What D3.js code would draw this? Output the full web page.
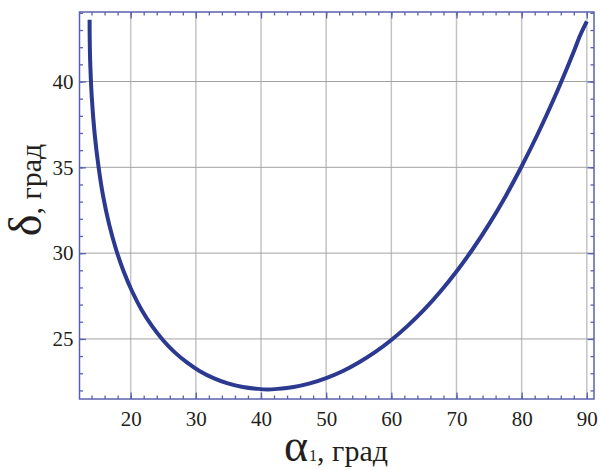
<!DOCTYPE html>
<html>
<head>
<meta charset="utf-8">
<script src="https://cdn.jsdelivr.net/npm/d3@7"></script>
<style>
  body { margin: 0; background: #fff; }
  svg { display: block; }
</style>
</head>
<body>
<svg id="chart" width="600" height="470" font-family="Liberation Serif"></svg>
<script>
// Data: alpha1 (deg) vs delta (deg)
const alpha1 = [13.70, 13.71, 13.75, 13.82, 14.04, 14.47, 15.06, 15.79, 16.69, 17.74,
  18.93, 20.25, 21.69, 23.26, 24.94, 26.73, 28.63, 30.62, 32.72, 34.91, 37.20, 39.59,
  41.03, 42.5, 45, 47.5, 50, 52.5, 55, 57.5, 60, 62.5, 65, 67.5, 70, 72.5, 75, 77.5,
  80, 82.5, 85, 87, 88, 89, 90];
const delta = [43.6, 42.71, 41.75, 40.82, 39.04, 36.97, 35.06, 33.29, 31.69, 30.24,
  28.93, 27.75, 26.69, 25.76, 24.94, 24.23, 23.63, 23.12, 22.72, 22.41, 22.20, 22.09,
  22.06, 22.09, 22.20, 22.41, 22.72, 23.12, 23.63, 24.23, 24.94, 25.76, 26.69, 27.75,
  28.93, 30.24, 31.69, 33.29, 35.06, 36.97, 39.04, 40.82, 41.75, 42.71, 43.5];

const xTicks = [20, 30, 40, 50, 60, 70, 80, 90];
const yTicks = [25, 30, 35, 40];
const xMinorTicks = d3.range(14, 91, 2);
const yMinorTicks = d3.range(22, 45, 1);

const L = 79.5, R = 594, T = 12, B = 399;
const x = d3.scaleLinear().domain([12.15, 91.1]).range([L, R]);
const y = d3.scaleLinear().domain([21.5, 44.05]).range([B, T]);

const FONT = "Liberation Serif";
const svg = d3.select("#chart");
const frameColor = "#5a62ae";

// grid
svg.append("g").selectAll("line").data(xTicks).join("line")
  .attr("x1", d => x(d)).attr("x2", d => x(d)).attr("y1", T).attr("y2", B)
  .attr("stroke", "#c4c4c4").attr("stroke-width", 1.5);
svg.append("g").selectAll("line").data(yTicks).join("line")
  .attr("x1", L).attr("x2", R).attr("y1", d => y(d)).attr("y2", d => y(d))
  .attr("stroke", "#a2a2a2").attr("stroke-width", 1);

// axes with inward ticks
function styleAxis(g) {
  g.attr("font-family", FONT);
  g.select(".domain").remove();
  g.selectAll(".tick line").attr("stroke", frameColor).attr("stroke-width", 1.3);
  g.selectAll("text").attr("font-family", FONT).style("font-family", FONT)
    .attr("font-size", 21).attr("fill", "#231f20");
}
// minor
svg.append("g").attr("transform", `translate(0,${B})`)
  .call(d3.axisBottom(x).tickValues(xMinorTicks).tickSize(-3.5).tickFormat("")).call(styleAxis);
svg.append("g").attr("transform", `translate(0,${T})`)
  .call(d3.axisTop(x).tickValues(xMinorTicks).tickSize(-3.5).tickFormat("")).call(styleAxis);
svg.append("g").attr("transform", `translate(${L},0)`)
  .call(d3.axisLeft(y).tickValues(yMinorTicks).tickSize(-3.5).tickFormat("")).call(styleAxis);
svg.append("g").attr("transform", `translate(${R},0)`)
  .call(d3.axisRight(y).tickValues(yMinorTicks).tickSize(-3.5).tickFormat("")).call(styleAxis);
// major
svg.append("g").attr("transform", `translate(0,${B})`)
  .call(d3.axisBottom(x).tickValues(xTicks).tickSize(-6.5).tickPadding(12).tickFormat(d3.format("d"))).call(styleAxis);
svg.append("g").attr("transform", `translate(0,${T})`)
  .call(d3.axisTop(x).tickValues(xTicks).tickSize(-6.5).tickFormat("")).call(styleAxis);
svg.append("g").attr("transform", `translate(${L},0)`)
  .call(d3.axisLeft(y).tickValues(yTicks).tickSize(-6.5).tickPadding(6).tickFormat(d3.format("d"))).call(styleAxis);
svg.append("g").attr("transform", `translate(${R},0)`)
  .call(d3.axisRight(y).tickValues(yTicks).tickSize(-6.5).tickFormat("")).call(styleAxis);

// frame
svg.append("rect").attr("x", L).attr("y", T).attr("width", R - L).attr("height", B - T)
  .attr("fill", "none").attr("stroke", frameColor).attr("stroke-width", 1.5);

// curve
const pts = alpha1.map((a, i) => [a, delta[i]]);
svg.append("path").datum(pts)
  .attr("d", d3.line().x(d => x(d[0])).y(d => y(d[1])).curve(d3.curveCatmullRom.alpha(0.5)))
  .attr("fill", "none").attr("stroke", "#2b3990").attr("stroke-width", 4);

// x title
const xt = svg.append("text").attr("x", 284).attr("y", 461)
  .attr("font-family", FONT).style("font-family", FONT).attr("fill", "#231f20");
xt.append("tspan").attr("font-size", 46).text("α");
xt.append("tspan").attr("font-size", 16).attr("dx", 1).text("1");
xt.append("tspan").attr("font-size", 30).text(", град");

// y title
const yt = svg.append("text").attr("transform", "translate(41,190) rotate(-90)")
  .attr("text-anchor", "middle").attr("font-family", FONT).style("font-family", FONT).attr("fill", "#231f20");
yt.append("tspan").attr("font-size", 46).text("δ");
yt.append("tspan").attr("font-size", 30).text(", град");
</script>
</body>
</html>
